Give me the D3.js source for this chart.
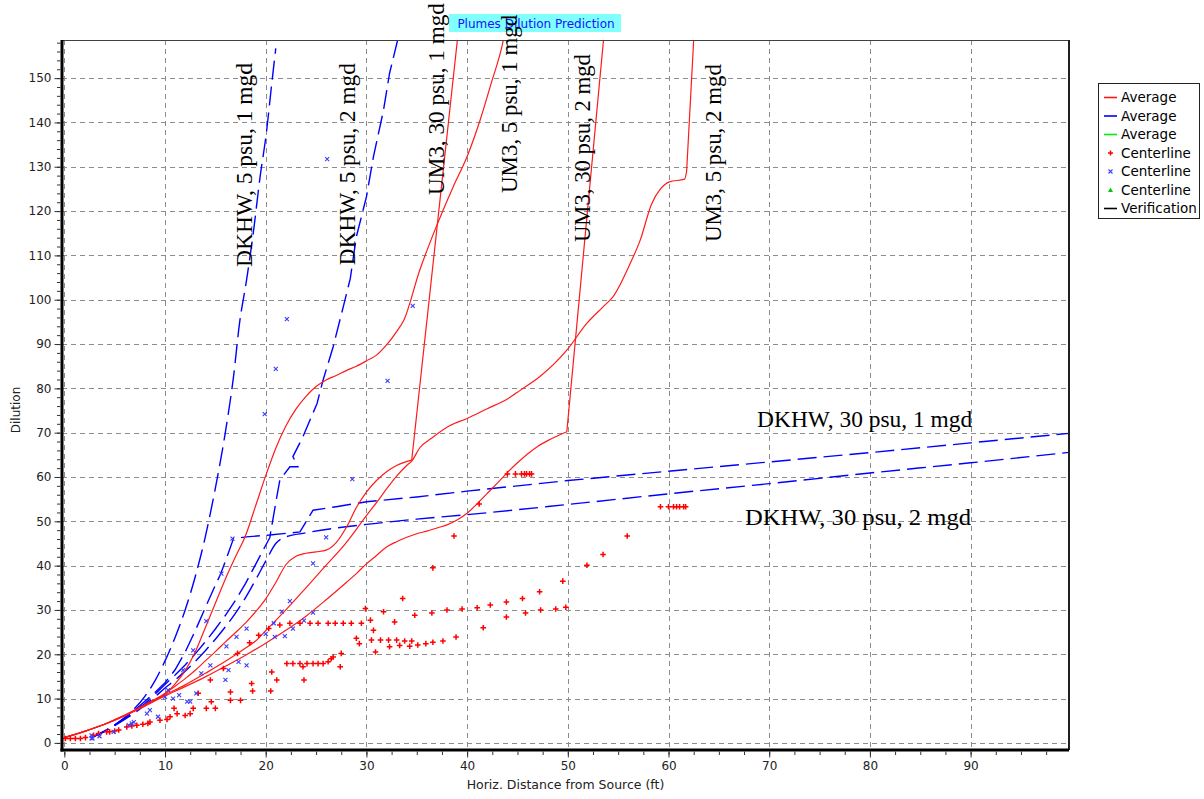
<!DOCTYPE html>
<html><head><meta charset="utf-8">
<script src="https://cdn.jsdelivr.net/npm/d3@7"></script>
<style>body{margin:0;background:#fff;} svg{display:block}</style>
</head><body>
<svg id="c" width="1204" height="799"></svg>
<script>
// ---------- DATA ----------
const xTicks = [0,10,20,30,40,50,60,70,80,90];
const yTicks = [0,10,20,30,40,50,60,70,80,90,100,110,120,130,140,150];
const chartTitle = "Plumes Dilution Prediction";
const xTitle = "Horiz. Distance from Source (ft)";
const yTitle = "Dilution";

// UM3 "Average" (red)
const um3_30psu_1mgd = [[0,1.2],[1,1.9],[2,2.6],[3,3.4],[4,4.2],[5,5.2],[6,6.2],[7,7.3],[8,8.5],[9,9.8],[10,11.2],[11,12.8],[12,14.5],[13,16.4],[14,18.5],[15,20.6],[16,22.8],[17,24.9],[18,27.1],[19,29.6],[20,32.5],[21,36.2],[22,40.2],[23,42.1],[24,42.8],[25,43.1],[26,43.5],[27,45.2],[28,48.6],[29,53.1],[30,56.6],[31,59.2],[32,61.2],[33,62.6],[34.5,63.8],[39.1,160]];
const um3_5psu_1mgd = [[0,1.2],[2,2.6],[4,4.2],[6,6.3],[8,8.6],[9,9.8],[10,11.0],[11,13.3],[12,16.3],[13,20.5],[14,26.0],[15,31.5],[16,37.0],[17,42.0],[18,46.8],[19,53.5],[20,60.3],[21,66.5],[22,71.5],[23,75.3],[24,78.2],[25,80.4],[26,81.9],[27,82.9],[28,84.0],[29,85.0],[30,86.2],[31,87.5],[32,89.8],[33,92.8],[33.7,95.3],[35.3,106.7],[36.8,115.7],[38.6,125.4],[40.0,132.3],[41.3,140.6],[42.4,148.9],[43.6,158.6],[43.8,161]];
const um3_30psu_2mgd = [[0,1.2],[2,2.6],[4,4.2],[6,6.1],[8,8.3],[10,10.6],[12,12.7],[14,14.9],[16,17.3],[18,19.8],[20,22.5],[22,25.4],[24,28.6],[26,32.3],[28,36.2],[29,38.2],[30,40.4],[31,42.3],[32,44.2],[33,45.4],[34,46.4],[35,47.2],[36,47.8],[37,48.5],[38,49.2],[39,50.3],[40,51.8],[41,54.0],[42,56.3],[43,58.6],[44,61.0],[45,63.2],[46,65.2],[47,66.9],[48,68.2],[49,69.3],[49.9,70.2],[53.6,160]];
const um3_5psu_2mgd = [[0,1.2],[2,2.6],[4,4.2],[6,6.2],[8,8.4],[10,10.8],[12,13.1],[14,15.7],[16,18.4],[18,21.4],[19,23.0],[20,25.3],[22,30.0],[24,35.0],[26,40.1],[28,45.2],[29,48.2],[30,51.3],[31,54.2],[32,57.3],[33,60.2],[34,62.6],[34.5,63.6],[35.3,66.6],[36.5,68.8],[38.3,71.6],[40,73.2],[42,75.4],[44,77.6],[45.3,79.6],[47.2,82.6],[49.9,88.6],[51.9,94.7],[53.5,98.4],[54.5,100.7],[56.2,108.2],[57.2,113.5],[58.3,121.5],[59.2,125.0],[60.1,126.6],[61.6,127.2],[61.8,129.0],[62.5,158.6],[62.55,161]];

// DKHW "Average" (blue, dashed)
const dkhw_5psu_1mgd = [[2.7,1.2],[4,2.7],[5,4.1],[6,5.7],[7,7.8],[8,10.5],[9,14.0],[10,18.5],[11,23.8],[12,30.0],[13,37.5],[14,46.5],[15,57.5],[16,70.2],[16.8,82.6],[17.4,94.7],[18.1,104.5],[18.8,115.7],[19.4,127.0],[20.1,138.3],[20.6,148.8],[21.0,156.7]];
const dkhw_5psu_2mgd = [[2.7,1.2],[4,2.6],[5,4.0],[6,5.5],[7,7.1],[8,8.9],[9,11.0],[10,13.2],[11,15.3],[12,17.6],[13,20.1],[14,22.8],[15,25.7],[16,28.8],[17,32.2],[18,36.0],[19,40.3],[20,44.6],[20.4,46.3],[21.1,55.5],[21.4,59.3],[22.4,62.3],[23.2,62.3],[22.7,64.6],[23.7,69.1],[25.1,76.6],[25.7,81.9],[26.7,89.4],[27.7,98.4],[28.4,104.8],[29.0,114.2],[30.0,123.2],[30.7,132.3],[31.7,142.8],[32.3,151.1],[33.1,158.6],[33.3,161]];
const dkhw_30psu_1mgd = [[2.7,1.2],[4,2.6],[5,4.0],[6,5.6],[7,7.4],[8,9.4],[9,11.4],[10,13.6],[11,16.5],[12,20.5],[13,25.3],[14,30.5],[15,35.6],[15.5,38.0],[16,41.0],[16.8,46.1],[18.1,46.5],[20.4,46.9],[23.4,47.6],[24.7,52.5],[27,53.3],[30,54.4],[35,55.5],[40,56.8],[50,59.2],[60,61.3],[70,63.4],[80,65.5],[90,67.7],[100,69.9]];
const dkhw_30psu_2mgd = [[2.7,1.2],[4,2.6],[5,3.9],[6,5.3],[7,6.8],[8,8.5],[9,10.4],[10,12.4],[11,14.2],[12,16.2],[13,18.4],[14,20.8],[15,23.4],[16,26.2],[17,29.3],[18,32.8],[19,36.8],[20,41.0],[21,45.0],[21.8,46.3],[24,47.4],[26.7,48.4],[28.4,48.9],[30,49.3],[35,50.5],[40,51.5],[50,53.8],[60,56.2],[70,58.5],[80,60.9],[90,63.2],[100,65.6]];

// UM3 "Centerline" (red +)
const um3Centerline = [[0.1,1.0],[0.6,1.0],[1.1,1.0],[1.6,1.0],[2.1,1.2],[2.9,1.7],[3.4,2.1],[4.2,2.5],[4.5,2.5],[5.0,2.7],[5.4,2.9],[6.2,3.6],[6.7,3.8],[7.2,4.0],[7.8,4.2],[8.3,4.4],[8.5,4.7],[9.5,5.1],[10.2,5.3],[10.5,5.9],[10.9,7.8],[11.2,6.6],[12.0,6.2],[12.5,6.6],[12.8,7.8],[13.3,11.2],[14.1,7.8],[14.5,14.2],[14.6,9.3],[15.0,7.8],[15.8,16.8],[16.5,11.5],[16.5,9.6],[17.2,20.2],[17.5,9.6],[18.4,22.6],[18.6,13.4],[18.7,11.7],[19.3,24.3],[20.3,25.8],[20.5,11.7],[20.6,16.0],[21.1,14.2],[21.4,26.6],[22.1,17.9],[22.7,17.9],[23.4,17.9],[24.1,17.9],[24.7,17.9],[25.2,17.9],[25.7,17.9],[26.2,18.3],[26.5,19.0],[26.7,19.4],[22.4,27.0],[23.4,27.0],[24.4,27.0],[25.2,27.0],[26.2,27.0],[26.9,27.0],[27.7,27.0],[28.5,27.0],[29.5,27.0],[23.7,17.2],[23.8,14.2],[27.4,17.2],[27.5,20.2],[30.4,27.7],[30.5,23.2],[30.7,25.4],[30.9,20.5],[31.4,23.2],[31.7,29.6],[32.2,23.2],[32.3,21.7],[32.8,27.3],[33.0,23.2],[33.3,22.0],[29.9,30.3],[29.0,23.6],[29.3,22.4],[33.6,32.6],[33.8,23.0],[34.3,21.8],[34.5,23.0],[34.8,28.8],[35.1,22.1],[35.9,22.4],[36.5,29.3],[36.6,39.5],[36.6,22.7],[37.6,23.0],[38.0,30.0],[38.7,46.7],[38.9,23.9],[39.5,30.2],[41.0,30.5],[41.2,53.9],[41.6,26.0],[42.3,31.1],[43.9,31.8],[43.9,28.4],[44.0,60.7],[44.8,60.7],[45.4,60.7],[45.7,60.7],[45.9,60.7],[46.2,60.7],[46.4,60.7],[45.5,32.6],[45.8,29.3],[47.2,34.1],[47.3,30.0],[48.8,30.2],[49.5,36.5],[49.8,30.6],[51.9,40.1],[53.5,42.5],[55.9,46.7],[59.2,53.3],[60.0,53.3],[60.5,53.3],[60.8,53.3],[61.1,53.3],[61.5,53.3],[61.7,53.3]];
// DKHW "Centerline" (blue x)
const dkhwCenterline = [[2.7,1.0],[2.7,1.7],[2.8,1.0],[3.5,1.5],[4.9,2.5],[6.4,4.0],[6.7,4.4],[6.9,4.7],[8.2,6.6],[8.5,7.4],[9.3,5.9],[10.0,10.4],[10.3,11.9],[10.8,10.0],[11.4,10.8],[11.8,16.4],[12.2,9.3],[12.5,9.3],[12.8,20.9],[13.1,11.2],[13.6,15.7],[14.1,27.5],[14.5,17.5],[15.6,38.2],[16.0,14.2],[16.3,16.4],[16.1,21.8],[17.1,23.9],[17.3,18.3],[18.1,25.8],[18.1,17.5],[16.7,46.1],[20.0,24.6],[20.8,27.0],[20.9,23.9],[21.6,29.6],[21.9,24.1],[22.7,25.8],[22.4,32.0],[23.8,27.6],[24.7,29.4],[24.7,40.5],[26.0,46.4],[28.6,59.5],[19.9,74.2],[21.0,84.4],[22.1,95.6],[26.1,131.7],[32.1,81.7],[34.6,98.6]];

const legendLabels = ["Average","Average","Average","Centerline","Centerline","Centerline","Verification"];
const curveLabels = ["DKHW, 5 psu, 1 mgd","DKHW, 5 psu, 2 mgd","UM3, 30 psu, 1 mgd","UM3, 5 psu, 1 mgd","UM3, 30 psu, 2 mgd","UM3, 5 psu, 2 mgd","DKHW, 30 psu, 1 mgd","DKHW, 30 psu, 2 mgd"];

// ---------- DRAW ----------
const W = 1204, H = 799;
const P = {l:62, r:1069, t:40, b:750};
const x = d3.scaleLinear().domain([-0.23, 99.77]).range([P.l, P.r]);
const y = d3.scaleLinear().domain([-1.6, 158.6]).range([P.b, P.t]);
const RED = "#ff1a1a", BLUE = "#0000ff";
const sans = "DejaVu Sans, Verdana, sans-serif";
const serif = "Liberation Serif, Times New Roman, serif";

const svg = d3.select("#c");
svg.append("rect").attr("width", W).attr("height", H).attr("fill", "#fff");
svg.append("defs").append("clipPath").attr("id", "clip")
  .append("rect").attr("x", P.l).attr("y", P.t).attr("width", P.r - P.l).attr("height", P.b - P.t);

// grid
const grid = svg.append("g").attr("stroke", "#8c8c8c").attr("stroke-width", 1).attr("stroke-dasharray", "5,4");
xTicks.forEach(t => grid.append("line").attr("x1", Math.round(x(t)) + 0.5).attr("x2", Math.round(x(t)) + 0.5).attr("y1", P.t).attr("y2", P.b));
yTicks.forEach(t => grid.append("line").attr("y1", Math.round(y(t)) + 0.5).attr("y2", Math.round(y(t)) + 0.5).attr("x1", P.l).attr("x2", P.r));

// series
const lineLin = d3.line().x(d => x(d[0])).y(d => y(d[1]));
const lineSm = d3.line().x(d => x(d[0])).y(d => y(d[1])).curve(d3.curveMonotoneX);
// smooth up to the sharp "kink" (where the curve turns near-vertical), straight after it
function kinked(s) {
  let k = -1;
  for (let i = 0; i < s.length - 1; i++) {
    const sl = (s[i + 1][1] - s[i][1]) / (s[i + 1][0] - s[i][0]);
    if (sl > 15) { k = i; break; }
  }
  if (k < 0) return lineSm(s);
  return lineSm(s.slice(0, k + 1)) + lineLin(s.slice(k)).replace(/^M/, "L");
}
const plot = svg.append("g").attr("clip-path", "url(#clip)");
[[dkhw_5psu_1mgd, lineSm], [dkhw_5psu_2mgd, lineLin], [dkhw_30psu_1mgd, lineLin], [dkhw_30psu_2mgd, lineSm]].forEach(([s, gen]) =>
  plot.append("path").attr("d", gen(s)).attr("fill", "none").attr("stroke", BLUE)
    .attr("stroke-width", 1.4).attr("stroke-dasharray", "19,7"));
[um3_30psu_1mgd, um3_5psu_1mgd, um3_30psu_2mgd, um3_5psu_2mgd].forEach(s =>
  plot.append("path").attr("d", kinked(s)).attr("fill", "none").attr("stroke", RED).attr("stroke-width", 1.2));

plot.append("g").selectAll("path").data(um3Centerline).join("path")
  .attr("transform", d => `translate(${x(d[0])},${y(d[1])})`)
  .attr("d", "M-2.8,0H2.8M0,-2.8V2.8").attr("stroke", "#ff0000").attr("stroke-width", 1.5);
plot.append("g").selectAll("path").data(dkhwCenterline).join("path")
  .attr("transform", d => `translate(${x(d[0])},${y(d[1])})`)
  .attr("d", "M-2,-2L2,2M-2,2L2,-2").attr("stroke", "#3c3cff").attr("stroke-width", 1.1);

// frame
svg.append("line").attr("x1", P.l).attr("x2", P.r).attr("y1", P.t + 0.5).attr("y2", P.t + 0.5).attr("stroke", "#404040");
svg.append("line").attr("x1", P.r).attr("x2", P.r).attr("y1", P.t).attr("y2", P.b).attr("stroke", "#202020").attr("stroke-width", 2);
svg.append("line").attr("x1", P.l).attr("x2", P.l).attr("y1", P.t).attr("y2", P.b + 1.5).attr("stroke", "#000").attr("stroke-width", 3);
svg.append("line").attr("x1", P.l - 1.5).attr("x2", P.r).attr("y1", P.b).attr("y2", P.b).attr("stroke", "#000").attr("stroke-width", 3);

// axes
function styleAxis(g) {
  g.select(".domain").remove();
  g.selectAll("line").attr("stroke", "#333");
  g.selectAll("text").attr("font-family", sans).attr("font-size", 12).attr("fill", "#222");
}
const yMinor = d3.range(0, 159, 2);
svg.append("g").attr("transform", `translate(${P.l - 1.5},0)`)
  .call(d3.axisLeft(y).tickValues(yMinor).tickSize(3.5).tickFormat("")).call(styleAxis);
svg.append("g").attr("transform", `translate(${P.l - 1.5},0)`)
  .call(d3.axisLeft(y).tickValues(yTicks).tickSize(6).tickPadding(3).tickFormat(d3.format("d"))).call(styleAxis);
const xMinor = d3.range(0, 100, 2.5);
svg.append("g").attr("transform", `translate(0,${P.b + 1.5})`)
  .call(d3.axisBottom(x).tickValues(xMinor).tickSize(3.5).tickFormat("")).call(styleAxis);
svg.append("g").attr("transform", `translate(0,${P.b + 1.5})`)
  .call(d3.axisBottom(x).tickValues(xTicks).tickSize(6).tickPadding(4).tickFormat(d3.format("d"))).call(styleAxis);

// axis titles
svg.append("text").attr("x", (P.l + P.r) / 2).attr("y", 789).attr("text-anchor", "middle")
  .attr("font-family", sans).attr("font-size", 12.5).attr("fill", "#222").text(xTitle);
svg.append("text").attr("transform", "translate(20,410) rotate(-90)").attr("text-anchor", "middle")
  .attr("font-family", sans).attr("font-size", 12).attr("fill", "#222").text(yTitle);

// title
svg.append("rect").attr("x", 449).attr("y", 14).attr("width", 172).attr("height", 18).attr("fill", "#80ffff");
svg.append("text").attr("x", 536).attr("y", 28).attr("text-anchor", "middle")
  .attr("font-family", sans).attr("font-size", 12).attr("fill", "#1414ff").text(chartTitle);

// curve labels (anchored in data space)
const vAnchors = [[18.64,107.4,204],[28.87,107.8,202],[37.66,123.6,192],[45.0,124.1,178],[52.2,113.0,188],[65.2,113.0,178]];
vAnchors.forEach((a, i) => {
  svg.append("text").attr("transform", `translate(${x(a[0])},${y(a[1])}) rotate(-90)`)
    .attr("font-family", serif).attr("font-size", 23).attr("fill", "#000")
    .attr("textLength", a[2]).attr("lengthAdjust", "spacingAndGlyphs").text(curveLabels[i]);
});
const hAnchors = [[68.8,71.3,215],[67.6,49.1,226]];
hAnchors.forEach((a, i) => {
  svg.append("text").attr("x", x(a[0])).attr("y", y(a[1]))
    .attr("font-family", serif).attr("font-size", 23).attr("fill", "#000")
    .attr("textLength", a[2]).attr("lengthAdjust", "spacingAndGlyphs").text(curveLabels[6 + i]);
});

// legend
const lg = svg.append("g");
lg.append("rect").attr("x", 1098.5).attr("y", 83.5).attr("width", 101).attr("height", 135)
  .attr("fill", "#fff").attr("stroke", "#222");
const legKinds = [["line", RED], ["line", BLUE], ["line", "#00ee00"], ["plus", "#ff0000"], ["cross", "#3c3cff"], ["tri", "#00cc00"], ["line", "#000"]];
legendLabels.forEach((lab, i) => {
  const cy = 97.5 + i * 18.5;
  const k = legKinds[i];
  if (k[0] === "line") lg.append("line").attr("x1", 1104).attr("x2", 1117).attr("y1", cy).attr("y2", cy).attr("stroke", k[1]).attr("stroke-width", 1.6);
  else if (k[0] === "plus") lg.append("path").attr("d", `M1108,${cy}h5M1110.5,${cy - 2.5}v5`).attr("stroke", k[1]).attr("stroke-width", 1.5);
  else if (k[0] === "cross") lg.append("path").attr("d", `M1108.5,${cy - 2}l4,4M1108.5,${cy + 2}l4,-4`).attr("stroke", k[1]).attr("stroke-width", 1.1);
  else lg.append("path").attr("d", `M1110.5,${cy - 2.5}L1113,${cy + 2}L1108,${cy + 2}Z`).attr("fill", k[1]);
  lg.append("text").attr("x", 1121).attr("y", cy).attr("dy", "0.35em")
    .attr("font-family", sans).attr("font-size", 13.5).attr("fill", "#000").text(lab);
});
</script>
</body></html>
